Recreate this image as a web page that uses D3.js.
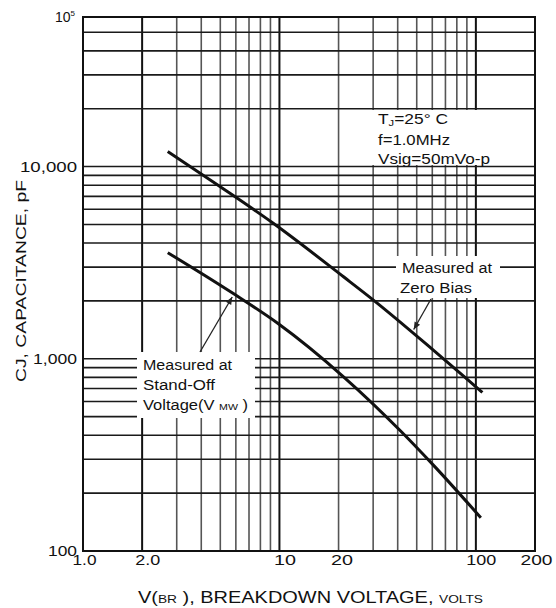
<!DOCTYPE html>
<html>
<head>
<meta charset="utf-8">
<script src="https://cdn.jsdelivr.net/npm/d3@7"></script>
<style>
  html, body { margin: 0; padding: 0; background: #fff; }
  svg { display: block; font-family: "Liberation Sans", Arial, sans-serif; }
</style>
</head>
<body>
<svg id="chart" width="556" height="608"></svg>
<script>
// ---- data ----
const xTickValues = [1, 2, 10, 20, 100, 200];
const xTickLabels = ["1.0", "2.0", "10", "20", "100", "200"];
const yTickValues = [100, 1000, 10000];
const yTickLabels = ["100", "1,000", "10,000"];
const yTopValue = 60000;
const yTopLabelBase = "10";
const yTopLabelExp = "5";

const zeroBiasV = [2.7, 5.0, 9.3, 21.2, 30.2, 58.9, 86.9, 108];
const zeroBiasC = [11970, 7850, 5070, 2670, 2015, 1140, 810, 668];
const standOffV = [2.7, 5.8, 9.8, 21.2, 41.4, 61.1, 106];
const standOffC = [3565, 2190, 1530, 806, 421, 278, 149];

const xGridValues = [1,2,3,4,5,6,7,8,9,10,20,30,40,50,60,70,80,90,100,200];
const yGridValues = [100,200,300,400,500,600,700,800,900,1000,2000,3000,4000,5000,6000,7000,8000,9000,10000,20000,30000,40000,50000];

// ---- layout ----
const svg = d3.select("#chart");
const margin = {left: 83, top: 17, right: 21, bottom: 57};
const W = 556, H = 608;
const x = d3.scaleLog().domain([1, 200]).range([margin.left, W - margin.right]);
const y = d3.scaleLog().domain([100, yTopValue]).range([H - margin.bottom, margin.top]);

const ink = "#111";

// grid
const grid = svg.append("g");
grid.selectAll("line.v").data(xGridValues).join("line")
  .attr("x1", d => x(d)).attr("x2", d => x(d))
  .attr("y1", y(100)).attr("y2", y(yTopValue))
  .attr("stroke", d => [2, 10, 100].includes(d) ? "#111" : "#555")
  .attr("stroke-width", d => [2, 10, 100].includes(d) ? 2 : 1.6);
grid.selectAll("line.h").data(yGridValues).join("line")
  .attr("x1", x(1)).attr("x2", x(200))
  .attr("y1", d => y(d)).attr("y2", d => y(d))
  .attr("stroke", "#1a1a1a")
  .attr("stroke-width", 1.6);

// white boxes behind annotations
function blank(x0, y0, x1, y1) {
  svg.append("rect").attr("x", x0).attr("y", y0).attr("width", x1 - x0).attr("height", y1 - y0).attr("fill", "#fff");
}
blank(370, 110, 494, 165);
blank(396, 256, 500, 298);
blank(137, 352, 255, 418);

// frame
svg.append("rect")
  .attr("x", x(1)).attr("y", y(yTopValue))
  .attr("width", x(200) - x(1)).attr("height", y(100) - y(yTopValue))
  .attr("fill", "none").attr("stroke", ink).attr("stroke-width", 2);

// curves
const line = d3.line().x(d => x(d[0])).y(d => y(d[1])).curve(d3.curveMonotoneX);
svg.append("path").datum(zeroBiasV.map((v, i) => [v, zeroBiasC[i]]))
  .attr("d", line).attr("fill", "none").attr("stroke", ink).attr("stroke-width", 3);
svg.append("path").datum(standOffV.map((v, i) => [v, standOffC[i]]))
  .attr("d", line).attr("fill", "none").attr("stroke", ink).attr("stroke-width", 3);

// axes labels
const xLabelShift = {1: 1, 2: 5, 10: 5, 20: 3, 100: 5, 200: 1};
const xLabelWidth = {1: 24, 2: 25, 10: 22, 20: 22, 100: 30, 200: 32};
const xAxis = d3.axisBottom(x).tickValues(xTickValues)
  .tickFormat((d, i) => xTickLabels[i]).tickSize(0).tickPadding(4);
const gx = svg.append("g").attr("transform", `translate(0,${y(100)})`).call(xAxis);
gx.select(".domain").remove();
gx.selectAll("text").attr("font-size", 14).attr("fill", ink)
  .attr("font-family", "Liberation Sans, Arial, sans-serif")
  .attr("dx", d => xLabelShift[d])
  .attr("textLength", d => xLabelWidth[d]).attr("lengthAdjust", "spacingAndGlyphs");

const yLabelWidth = {100: 29, 1000: 44, 10000: 57};
const yAxis = d3.axisLeft(y).tickValues(yTickValues)
  .tickFormat((d, i) => yTickLabels[i]).tickSize(0).tickPadding(6);
const gy = svg.append("g").attr("transform", `translate(${x(1)},0)`).call(yAxis);
gy.select(".domain").remove();
gy.selectAll("text").attr("font-size", 14).attr("fill", ink)
  .attr("font-family", "Liberation Sans, Arial, sans-serif")
  .attr("textLength", d => yLabelWidth[d]).attr("lengthAdjust", "spacingAndGlyphs");

// top label 10^5
const topLabel = svg.append("text").attr("x", 55).attr("y", y(yTopValue) + 5)
  .attr("font-size", 14).attr("fill", ink);
topLabel.append("tspan").text(yTopLabelBase);
topLabel.append("tspan").attr("dy", -6).attr("font-size", 8).text(yTopLabelExp);

// y title
svg.append("text")
  .attr("transform", `translate(26,281) rotate(-90)`)
  .attr("text-anchor", "middle").attr("font-size", 14).attr("fill", ink)
  .attr("textLength", 202).attr("lengthAdjust", "spacingAndGlyphs")
  .text("CJ, CAPACITANCE, pF");

// x title
const xt = svg.append("text").attr("x", 138).attr("y", 603)
  .attr("font-size", 16).attr("fill", ink)
  .attr("textLength", 345).attr("lengthAdjust", "spacingAndGlyphs");
xt.append("tspan").text("V(");
xt.append("tspan").attr("font-size", 11).text("BR");
xt.append("tspan").text(" ), BREAKDOWN  VOLTAGE, ");
xt.append("tspan").attr("font-size", 11).text("VOLTS");

// conditions box
const cond = svg.append("g").attr("font-size", 14).attr("fill", ink);
const t1 = cond.append("text").attr("x", 378).attr("y", 124)
  .attr("textLength", 70).attr("lengthAdjust", "spacingAndGlyphs");
t1.append("tspan").text("T");
t1.append("tspan").attr("font-size", 9).attr("dy", 2).text("J");
t1.append("tspan").attr("dy", -2).text("=25° C");
cond.append("text").attr("x", 378).attr("y", 145).text("f=1.0MHz")
  .attr("textLength", 72).attr("lengthAdjust", "spacingAndGlyphs");
cond.append("text").attr("x", 378).attr("y", 164).text("Vsig=50mVo-p")
  .attr("textLength", 112).attr("lengthAdjust", "spacingAndGlyphs");

// zero bias label
const zb = svg.append("g").attr("font-size", 14).attr("fill", ink);
zb.append("text").attr("x", 402).attr("y", 273).text("Measured at")
  .attr("textLength", 90).attr("lengthAdjust", "spacingAndGlyphs");
zb.append("text").attr("x", 400).attr("y", 293).text("Zero Bias")
  .attr("textLength", 72).attr("lengthAdjust", "spacingAndGlyphs");

// stand-off label
const so = svg.append("g").attr("font-size", 14).attr("fill", ink);
so.append("text").attr("x", 143).attr("y", 370).text("Measured at")
  .attr("textLength", 89).attr("lengthAdjust", "spacingAndGlyphs");
so.append("text").attr("x", 143).attr("y", 390).text("Stand-Off")
  .attr("textLength", 72).attr("lengthAdjust", "spacingAndGlyphs");
const v3 = so.append("text").attr("x", 143).attr("y", 410)
  .attr("textLength", 105).attr("lengthAdjust", "spacingAndGlyphs");
v3.append("tspan").text("Voltage(V ");
v3.append("tspan").attr("font-size", 9).text("MW");
v3.append("tspan").text(" )");

// pointers
function pointer(x0, y0, x1, y1) {
  svg.append("line").attr("x1", x0).attr("y1", y0).attr("x2", x1).attr("y2", y1)
    .attr("stroke", "#222").attr("stroke-width", 1.3);
  const a = Math.atan2(y1 - y0, x1 - x0), L = 8, w = 0.4;
  const p = [[x1, y1],
    [x1 - L * Math.cos(a - w), y1 - L * Math.sin(a - w)],
    [x1 - L * Math.cos(a + w), y1 - L * Math.sin(a + w)]];
  svg.append("path").attr("d", "M" + p.join("L") + "Z").attr("fill", "#222");
}
const zbV = 47.7, zbC = 1370;  // curve point the arrow touches (approx.)
pointer(431, 299, x(zbV) + 1, y(zbC) - 3);
const soV = 5.75, soC = 2200;
pointer(200, 352, x(soV), y(soC) + 4);
</script>
</body>
</html>
